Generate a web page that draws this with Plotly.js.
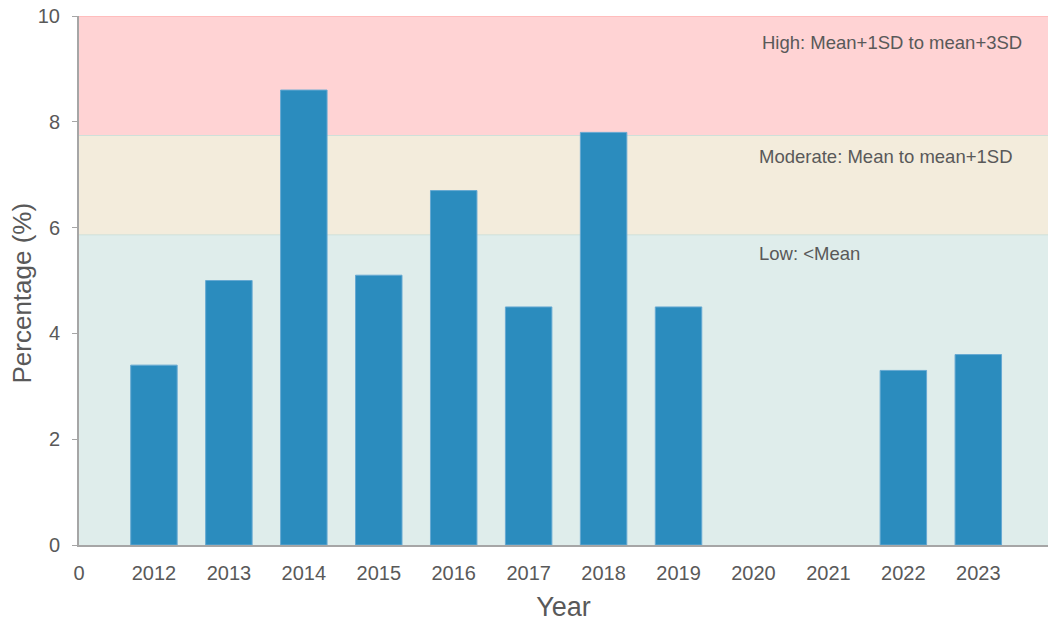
<!DOCTYPE html>
<html>
<head>
<meta charset="utf-8">
<script src="https://cdn.plot.ly/plotly-3.0.1.min.js"></script>
<style>html,body{margin:0;padding:0;background:#fff;}#chart{width:1048px;height:627px;}</style>
</head>
<body>
<div id="chart"></div>
<script>
// Data
const years = [2012, 2013, 2014, 2015, 2016, 2017, 2018, 2019, 2020, 2021, 2022, 2023];
const percentages = [3.4, 5.0, 8.6, 5.1, 6.7, 4.5, 7.8, 4.5, null, null, 3.3, 3.6];
const tickValues = [2011, 2012, 2013, 2014, 2015, 2016, 2017, 2018, 2019, 2020, 2021, 2022, 2023];
const tickLabels = ['0', '2012', '2013', '2014', '2015', '2016', '2017', '2018', '2019', '2020', '2021', '2022', '2023'];
const bandNames = ['Low: <Mean', 'Moderate: Mean to mean+1SD', 'High: Mean+1SD to mean+3SD'];
const bandLower = [0, 5.87, 7.75];
const bandUpper = [5.87, 7.75, 10];
const bandFill = ['#DFEDEB', '#F3ECDC', '#FFD3D4'];
const bandLine = ['#C3DDD8', '#C3DDD8', '#FFB6B6'];
const labelY = [5.51, 7.35, 9.49];
const labelX = [0.700, 0.700, 0.703];

const textColor = '#595959';
const fontFamily = '"Liberation Sans", Arial, sans-serif';

const shapes = [];
for (let i = 0; i < bandNames.length; i++) {
  shapes.push({
    type: 'rect', xref: 'paper', yref: 'y', layer: 'below',
    x0: 0, x1: 1, y0: bandLower[i], y1: bandUpper[i],
    fillcolor: bandFill[i], line: {width: 0}
  });
  shapes.push({
    type: 'line', xref: 'paper', yref: 'y', layer: 'below',
    x0: 0, x1: 1, y0: bandUpper[i], y1: bandUpper[i],
    line: {color: bandLine[i], width: 1.5}
  });
}

const annotations = bandNames.map((name, i) => ({
  text: name, xref: 'paper', yref: 'y', x: labelX[i], y: labelY[i],
  xanchor: 'left', yanchor: 'middle', showarrow: false,
  font: {family: fontFamily, size: 18.5, color: textColor}
}));

// Y axis title placed as rotated text annotation (slightly below plot centre, as in the reference)
annotations.push({
  text: 'Percentage (%)', xref: 'paper', yref: 'paper', x: -0.0585, y: 0.476,
  xanchor: 'center', yanchor: 'middle', textangle: -90, showarrow: false,
  font: {family: fontFamily, size: 26, color: textColor}
});

const trace = {
  type: 'bar', x: years, y: percentages, width: 0.62,
  marker: {color: '#2B8CBE', line: {color: '#66A9D2', width: 1}},
  hoverinfo: 'x+y'
};

const layout = {
  width: 1048, height: 627,
  margin: {l: 79, r: 0, t: 16, b: 82},
  paper_bgcolor: '#ffffff', plot_bgcolor: 'rgba(0,0,0,0)',
  showlegend: false,
  font: {family: fontFamily, color: textColor, size: 20},
  xaxis: {
    range: [2011, 2023.93], tickmode: 'array', tickvals: tickValues, ticktext: tickLabels,
    showgrid: false, zeroline: false, showline: true, linecolor: '#A6A6A6', linewidth: 2,
    ticks: '', ticklabelstandoff: 9,
    tickfont: {family: fontFamily, size: 20, color: textColor},
    title: {text: 'Year', font: {family: fontFamily, size: 27, color: textColor}, standoff: 14}
  },
  yaxis: {
    range: [0, 10], tickvals: [0, 2, 4, 6, 8, 10],
    showgrid: false, zeroline: false, showline: true, linecolor: '#A6A6A6', linewidth: 2,
    ticks: 'outside', ticklen: 5, tickcolor: '#A6A6A6', tickwidth: 1, ticklabelstandoff: 8,
    tickfont: {family: fontFamily, size: 20, color: textColor}
  },
  shapes: shapes,
  annotations: annotations
};

Plotly.newPlot('chart', [trace], layout, {displayModeBar: false, staticPlot: true});
</script>
</body>
</html>
